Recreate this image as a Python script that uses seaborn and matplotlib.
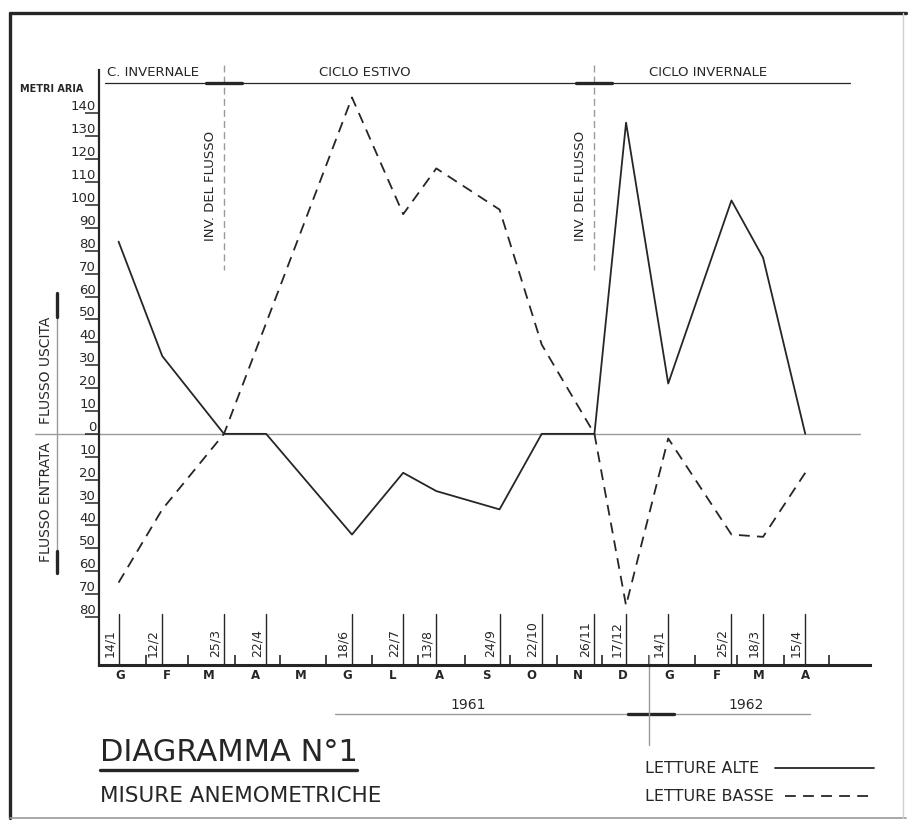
"""
Diagramma N°1 - misure anemometriche 1961-1962 (letture alte / basse).

Run: python plot.py  -> out.png
"""

import numpy as np
import pandas as pd
import matplotlib
matplotlib.use("Agg")
import matplotlib.pyplot as plt
import matplotlib.dates as mdates
import matplotlib.transforms as mtransforms
from matplotlib.lines import Line2D
import seaborn as sns

sns.set_theme(style="white")
plt.rcParams["font.family"] = ["DejaVu Sans"]

# --- data ----------------------------------------------------------------
date_alte = ["1961-01-14", "1961-02-12", "1961-03-25", "1961-04-22", "1961-06-18",
             "1961-07-22", "1961-08-13", "1961-09-24", "1961-10-22", "1961-11-26",
             "1961-12-17", "1962-01-14", "1962-02-25", "1962-03-18", "1962-04-15"]
letture_alte = [84, 34, 0, 0, -44, -17, -25, -33, 0, 0, 136, 22, 102, 77, 0]

date_basse = ["1961-01-14", "1961-02-12", "1961-03-25", "1961-06-18", "1961-07-22",
              "1961-08-13", "1961-09-24", "1961-10-22", "1961-11-26", "1961-12-17",
              "1962-01-14", "1962-02-25", "1962-03-18", "1962-04-15"]
letture_basse = [-65, -33, 0, 147, 96, 116, 98, 39, 0, -75, -2, -44, -45, -17]

serie = ["LETTURE ALTE", "LETTURE BASSE"]
mesi = ["G", "F", "M", "A", "M", "G", "L", "A", "S", "O", "N", "D", "G", "F", "M", "A"]
inversioni = ["1961-03-25", "1961-11-26"]
cicli = ["C. INVERNALE", "CICLO ESTIVO", "CICLO INVERNALE"]
anni = ["1961", "1962"]
y_ticks = list(range(-80, 141, 10))

df = pd.concat([
    pd.DataFrame({"data": pd.to_datetime(date_alte), "metri": letture_alte, "serie": serie[0]}),
    pd.DataFrame({"data": pd.to_datetime(date_basse), "metri": letture_basse, "serie": serie[1]}),
], ignore_index=True)

# --- layout helpers (pixel -> figure fraction) ----------------------------
W, H = 908, 822
INK = "#262626"
GREY = "#9a9a9a"
DASH = (6, 4)


def fx(p):
    return p / W


def fy(p):
    return 1 - p / H


def dn(d, days=0):
    return mdates.date2num(pd.Timestamp(d) + pd.Timedelta(days=days))


fig = plt.figure(figsize=(W / 100, H / 100), dpi=100)
fig.patch.set_facecolor("white")
ax = fig.add_axes([fx(99), fy(665), (870 - 99) / W, (665 - 70) / H])
ax.set_facecolor("none")

t0 = pd.Timestamp("1961-01-01")
ax.set_xlim(t0, t0 + pd.Timedelta(days=512))
ax.set_ylim(-101, 159)

# zero line (runs out to the left margin)
fig.add_artist(Line2D([fx(35), fx(860)], [fy(434), fy(434)], color=GREY, lw=1.0,
                      zorder=0))

sns.lineplot(data=df, x="data", y="metri", style="serie",
             dashes={serie[0]: "", serie[1]: DASH}, color=INK, lw=1.3,
             estimator=None, sort=True, legend=False, ax=ax, zorder=3)

# spines / ticks
for s in ["top", "right"]:
    ax.spines[s].set_visible(False)
ax.spines["left"].set_color(INK)
ax.spines["left"].set_linewidth(1.6)
ax.spines["bottom"].set_color(INK)
ax.spines["bottom"].set_linewidth(2.2)

ax.set_yticks(y_ticks)
ax.set_yticklabels([str(abs(v)) for v in y_ticks])
ax.tick_params(axis="y", direction="out", length=10, width=1.1, color=INK,
               pad=-8, labelsize=9.5, labelcolor=INK, left=True)
for t in ax.get_yticklabels():
    t.set_va("bottom")

mid_mesi = pd.date_range(t0, periods=len(mesi), freq="MS") + pd.Timedelta(days=14)
ax.xaxis.set_major_locator(mdates.MonthLocator())
ax.xaxis.set_major_formatter(plt.NullFormatter())
ax.xaxis.set_minor_locator(plt.FixedLocator(mdates.date2num(mid_mesi)))
ax.xaxis.set_minor_formatter(plt.FixedFormatter(mesi))
ax.tick_params(axis="x", which="major", direction="in", length=7, width=1.2,
               color=INK, bottom=True)
ax.tick_params(axis="x", which="minor", length=0, pad=3, labelsize=8.5,
               labelcolor=INK, bottom=True)
for t in ax.get_xticklabels(minor=True):
    t.set_fontweight("bold")
ax.set_xlabel("")
ax.set_ylabel("")
ax.grid(False)

bx = mtransforms.blended_transform_factory(ax.transData, ax.transAxes)

# observation date marks along the bottom axis
for d in pd.to_datetime(date_alte):
    ax.plot([dn(d), dn(d)], [0, 0.085], transform=bx, color=INK, lw=1.0, zorder=2)
    ax.annotate(f"{d.day}/{d.month}", xy=(dn(d), 0.014), xycoords=bx,
                xytext=(-2, 0), textcoords="offset points", rotation=90,
                ha="right", va="bottom", fontsize=9, color=INK)

# cycle header line and flux inversions
y_cyc = (665 - 83) / 595
fig.add_artist(Line2D([fx(105), fx(850)], [fy(83), fy(83)], color=INK, lw=0.9))
for d in inversioni:
    ax.plot([dn(d), dn(d)], [1.008, 0.664], transform=bx, color=GREY, lw=1.0,
            ls=(0, (5, 3)), clip_on=False, zorder=1)
    ax.plot([dn(d, -12), dn(d, 12)], [y_cyc, y_cyc], transform=bx, color=INK,
            lw=2.4, clip_on=False)
    ax.annotate("INV. DEL FLUSSO", xy=(dn(d), 0.805), xycoords=bx, xytext=(-10, 0),
                textcoords="offset points", rotation=90, ha="center", va="center",
                fontsize=9.5, color=INK)

fig.text(fx(107), fy(73), cicli[0], ha="left", va="center", fontsize=9.5, color=INK)
fig.text(fx(365), fy(73), cicli[1], ha="center", va="center", fontsize=9.5, color=INK)
fig.text(fx(708), fy(73), cicli[2], ha="center", va="center", fontsize=9.5, color=INK)
fig.text(fx(20), fy(89), "METRI ARIA", ha="left", va="center", fontsize=7,
         fontweight="bold", color=INK)

# flow direction labels on the left
fig.add_artist(Line2D([fx(57), fx(57)], [fy(293), fy(573)], color=GREY, lw=1.0))
fig.add_artist(Line2D([fx(57), fx(57)], [fy(293), fy(317)], color=INK, lw=2.4))
fig.add_artist(Line2D([fx(57), fx(57)], [fy(551), fy(573)], color=INK, lw=2.4))
fig.text(fx(46), fy(370), "FLUSSO USCITA", rotation=90, ha="center", va="center",
         fontsize=10, color=INK)
fig.text(fx(46), fy(502), "FLUSSO ENTRATA", rotation=90, ha="center", va="center",
         fontsize=10, color=INK)

# years under the axis
y_year = (665 - 714) / 595
ax.plot([dn(t0, 157), dn(t0, 472)], [y_year, y_year], transform=bx, color=GREY,
        lw=1.0, clip_on=False)
ax.plot([dn("1962-01-01", -14), dn("1962-01-01", 17)], [y_year, y_year],
        transform=bx, color=INK, lw=2.4, clip_on=False)
ax.plot([dn("1962-01-01"), dn("1962-01-01")], [(665 - 655) / 595, (665 - 745) / 595],
        transform=bx, color=GREY, lw=1.0, clip_on=False)
ax.text(dn("1961-09-03"), (665 - 705) / 595, anni[0], transform=bx,
        ha="center", va="center", fontsize=10, color=INK)
ax.text(dn("1962-03-07"), (665 - 705) / 595, anni[1], transform=bx,
        ha="center", va="center", fontsize=10, color=INK)

# title block
fig.text(fx(100), fy(752), "DIAGRAMMA N°1", ha="left", va="center", fontsize=22,
         color=INK)
fig.add_artist(Line2D([fx(100), fx(357)], [fy(770), fy(770)], color=INK, lw=2.4))
fig.text(fx(100), fy(796), "MISURE ANEMOMETRICHE", ha="left", va="center",
         fontsize=15.5, color=INK)

# legend, lettered like the drawing: text first, line sample after
legenda = [(serie[0], 768, 775, "-"), (serie[1], 796, 785, (0, DASH))]
for testo, yp, x0, ls in legenda:
    fig.text(fx(645), fy(yp), testo, ha="left", va="center", fontsize=11.5, color=INK)
    fig.add_artist(Line2D([fx(x0), fx(874)], [fy(yp), fy(yp)], color=INK, lw=1.3,
                          ls=ls))

# sheet border
for xs, ys, lw, c in [([10, 906], [13, 13], 2.4, INK),
                      ([10, 10], [13, 818], 2.4, INK),
                      ([10, 906], [818, 818], 1.2, GREY),
                      ([903, 903], [13, 818], 1.0, "#d0d0d0")]:
    fig.add_artist(Line2D([fx(v) for v in xs], [fy(v) for v in ys], color=c, lw=lw))

fig.savefig("out.png", dpi=100, facecolor="white")
plt.close(fig)
